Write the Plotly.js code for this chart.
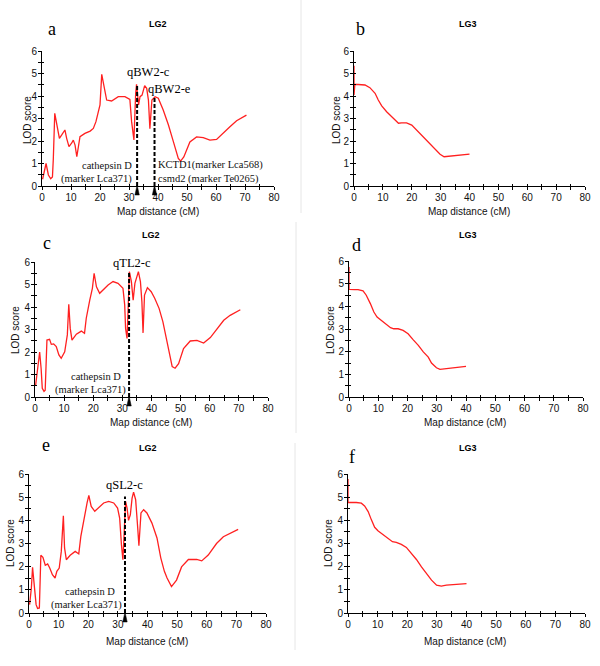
<!DOCTYPE html>
<html>
<head>
<meta charset="utf-8">
<script src="https://cdn.plot.ly/plotly-3.0.1.min.js"></script>
<style>html,body{margin:0;padding:0;background:#fff;}#chart{width:600px;height:666px;}</style>
</head>
<body>
<div id="chart"></div>
<script>
// ---- Data: LOD profiles (Map distance cM, LOD score) ----
const bwLG2_cM  = [0.2,1.4,2.2,3.0,3.6,3.9,4.4,5.1,6.0,6.8,7.9,8.5,9.3,10.2,10.8,11.4,12.0,13.1,14.8,16.6,17.7,18.6,20.0,20.6,21.4,22.3,24.0,25.2,26.3,28.6,30.3,30.9,31.7,32.3,32.6,33.3,33.8,34.5,35.4,36.1,36.7,37.2,37.9,39.0,40.1,41.8,43.6,45.3,47.0,47.8,48.9,51.0,53.3,55.6,57.9,60.2,62.5,64.8,67.1,70.5];
const bwLG2_lod = [0.3,1.0,0.49,0.32,0.4,1.2,3.23,2.71,2.12,2.27,2.49,2.12,1.75,1.9,2.04,1.82,1.3,2.19,2.34,2.44,2.56,2.86,3.6,4.96,4.49,3.82,3.78,3.9,3.97,3.97,3.85,2.86,2.05,4.12,4.52,3.6,3.97,4.04,4.46,4.34,3.82,2.55,3.82,3.97,3.9,3.38,2.71,1.97,1.23,1.11,1.29,1.96,2.18,2.15,2.04,2.07,2.33,2.63,2.9,3.15];

const bwLG3_cM  = [0,0,0.3,2.1,3.8,5.5,7.3,8.4,9.6,11.3,13.0,14.5,15.4,16.5,18.2,20.0,21.7,24.0,26.3,28.1,29.8,31.2,33.3,35.6,37.9,40.0];
const bwLG3_lod = [5.35,4.05,4.52,4.52,4.49,4.37,4.12,3.82,3.56,3.3,3.08,2.86,2.79,2.81,2.81,2.71,2.49,2.19,1.9,1.63,1.41,1.3,1.33,1.38,1.42,1.42];

const tlLG2_cM  = [0.2,0.8,1.6,2.1,2.5,3.1,3.5,4.1,5.0,5.6,6.4,7.3,8.2,9.0,10.2,11.1,11.6,12.1,12.7,14.2,15.9,17.0,17.6,18.8,19.7,20.3,21.1,22.2,23.3,25.1,26.8,28.5,30.2,30.8,31.1,31.6,32.0,32.4,33.1,33.7,34.3,35.0,35.5,36.2,36.7,37.1,37.6,38.6,39.9,41.1,42.6,43.9,45.1,46.2,47.1,48.1,49.3,51.0,53.3,55.6,57.9,60.2,62.5,64.8,67.0,70.5];
const tlLG2_lod = [0.5,1.27,2.0,1.27,0.39,0.25,0.3,2.53,2.56,2.34,2.36,2.24,1.87,1.72,2.01,2.76,4.12,3.05,2.53,2.79,2.93,2.83,3.5,4.31,4.83,5.5,4.9,4.61,4.76,4.98,5.13,5.05,4.83,4.09,3.05,2.6,4.0,5.57,5.13,4.3,5.05,5.42,5.57,5.13,4.24,2.85,4.53,4.86,4.68,4.39,3.94,3.35,2.61,1.87,1.35,1.28,1.48,2.15,2.49,2.52,2.4,2.64,3.04,3.41,3.63,3.88];

const tlLG3_cM  = [0,0,1.9,3.1,4.8,5.9,7.3,8.5,9.6,11.1,12.8,14.2,15.3,16.8,18.5,20.2,21.9,23.7,25.4,27.1,28.2,29.9,31.1,32.8,35.1,37.4,40.0];
const tlLG3_lod = [5.74,4.75,4.74,4.74,4.68,4.49,4.12,3.75,3.53,3.38,3.24,3.06,3.01,3.01,2.94,2.79,2.53,2.28,1.99,1.76,1.5,1.29,1.22,1.25,1.28,1.32,1.35];

const slLG2_cM  = [0.2,0.8,1.2,1.8,2.4,2.9,3.5,4.0,4.7,5.5,6.3,7.0,7.9,8.8,9.4,10.2,10.9,11.6,12.0,12.6,13.9,15.6,16.8,17.5,19.0,19.6,20.2,21.0,22.2,23.5,25.2,26.9,28.6,29.9,30.6,31.2,31.7,32.2,32.6,33.1,33.6,34.2,34.8,35.3,36.0,36.7,37.1,37.8,38.7,39.8,41.5,43.2,44.5,45.7,46.6,48.1,49.8,51.5,53.8,56.6,58.3,60.5,63.3,65.6,67.8,70.6];
const slLG2_lod = [0.36,1.08,1.97,1.22,0.36,0.2,0.22,2.49,2.4,2.06,2.12,1.94,1.65,1.51,1.8,1.94,2.66,4.2,2.81,2.3,2.49,2.66,2.55,3.31,4.46,4.75,5.08,4.6,4.39,4.56,4.75,4.82,4.75,4.53,4.1,2.95,2.3,3.67,4.82,4.53,4.0,4.24,4.96,5.22,4.89,3.67,2.9,4.32,4.46,4.32,3.88,3.24,2.37,1.8,1.51,1.14,1.42,1.99,2.31,2.31,2.25,2.5,3.0,3.29,3.44,3.61];

const slLG3_cM  = [0,0,2.8,4.5,5.6,6.8,7.9,9.0,10.1,11.8,13.5,15.0,16.3,18.0,19.7,21.4,23.1,24.8,26.5,28.2,29.9,31.5,33.2,35.5,37.7,40.0];
const slLG3_lod = [5.78,4.77,4.77,4.74,4.62,4.38,4.02,3.7,3.55,3.4,3.22,3.08,3.05,2.96,2.83,2.57,2.31,1.99,1.71,1.42,1.2,1.16,1.2,1.23,1.27,1.27];

// QTL marks: name, position (cM), top of dashed line (LOD)
const qtlNames = ["qBW2-c","qBW2-e","qTL2-c","qSL2-c"];
const qtlPos   = [32.8, 38.8, 32.3, 32.4];
const qtlTop   = [4.5, 3.97, 5.6, 5.03];
const qtlPanel = [1, 1, 3, 5];

const panelLetters = ["a","b","c","d","e","f"];
const panelTitles  = ["LG2","LG3","LG2","LG3","LG2","LG3"];
const xTitle = "Map distance (cM)";
const yTitle = "LOD score";

// ---- Layout geometry (pixels) ----
const W = 600, H = 666;
const boxes = [
  [42,274,51,186],[354,585,51,186],
  [35,268,262,397],[349,583,261,397],
  [29,266,474,613],[348,585,474,613]
];
const titlePos  = [[158,24],[468,24],[151,235],[468,235],[148,448],[468,448]];
const letterPos = [[52,29],[360,29],[47,243],[356,245],[46,445],[352,457]];
const xTitlePos = [[158,212],[469,212],[151,423],[465,423],[147,641],[465,641]];
const yTitlePos = [[28,120],[337,120],[15,330],[330,330],[10,543],[328,543]];

const series = [
  [bwLG2_cM,bwLG2_lod],[bwLG3_cM,bwLG3_lod],
  [tlLG2_cM,tlLG2_lod],[tlLG3_cM,tlLG3_lod],
  [slLG2_cM,slLG2_lod],[slLG3_cM,slLG3_lod]
];

const sans = "Liberation Sans, Arial, sans-serif";
const serif = "Liberation Serif, Times New Roman, serif";

const data = [];
const layout = {
  width: W, height: H, margin:{l:0,r:0,t:0,b:0},
  paper_bgcolor:"#fff", plot_bgcolor:"rgba(0,0,0,0)", showlegend:false,
  shapes:[], annotations:[]
};
function P(px,py){ return {x:px/W, y:1-py/H}; }

boxes.forEach((b,i)=>{
  const n = i+1, sfx = n===1?"":String(n);
  const xd = [b[0]/W, b[1]/W], yd = [1-b[3]/H, 1-b[2]/H];
  layout["xaxis"+sfx] = {
    domain:xd, anchor:"y"+sfx, range:[0,80],
    dtick:10, tick0:0, ticks:"outside", ticklen:3, tickwidth:1, tickcolor:"#000",
    minor:{dtick:5, ticks:"outside", ticklen:3, tickwidth:1, tickcolor:"#000"},
    showline:true, linecolor:"#000", linewidth:1, showgrid:false, zeroline:false,
    ticklabelstandoff:-1,
    tickfont:{family:sans,size:10,color:"#111"}
  };
  layout["yaxis"+sfx] = {
    domain:yd, anchor:"x"+sfx, range:[0,6],
    dtick:1, tick0:0, ticks:"outside", ticklen:3, tickwidth:1, tickcolor:"#000",
    minor:{dtick:0.5, ticks:"outside", ticklen:3, tickwidth:1, tickcolor:"#000"},
    showline:true, linecolor:"#000", linewidth:1, showgrid:false, zeroline:false,
    ticklabelstandoff:-1,
    tickfont:{family:sans,size:10,color:"#111"}
  };
  // overlay axes giving the inward half of the crossing ticks
  const on = String(n+6);
  layout["xaxis"+on] = {
    domain:xd, anchor:"y"+sfx, overlaying:"x"+sfx, range:[0,80],
    dtick:5, tick0:0, ticks:"inside", ticklen:2, tickwidth:1, tickcolor:"#000",
    showticklabels:false, showline:false, showgrid:false, zeroline:false
  };
  layout["yaxis"+on] = {
    domain:yd, anchor:"x"+sfx, overlaying:"y"+sfx, range:[0,6],
    dtick:0.5, tick0:0, ticks:"inside", ticklen:2, tickwidth:1, tickcolor:"#000",
    showticklabels:false, showline:false, showgrid:false, zeroline:false
  };
  data.push({
    type:"scatter", mode:"lines", x:series[i][0], y:series[i][1],
    xaxis:"x"+sfx, yaxis:"y"+sfx,
    line:{color:"#ff2020", width:1.3}, hoverinfo:"skip"
  });
  data.push({type:"scatter", mode:"lines", x:[], y:[], xaxis:"x"+on, yaxis:"y"+on, hoverinfo:"skip"});
  const tp = P(titlePos[i][0], titlePos[i][1]);
  layout.annotations.push({
    xref:"paper", yref:"paper", x:tp.x, y:tp.y,
    text:"<b>"+panelTitles[i]+"</b>", showarrow:false, xanchor:"center", yanchor:"middle",
    font:{family:sans,size:9,color:"#000"}
  });
  const lp = P(letterPos[i][0], letterPos[i][1]);
  layout.annotations.push({
    xref:"paper", yref:"paper", x:lp.x, y:lp.y,
    text:panelLetters[i], showarrow:false, xanchor:"center", yanchor:"middle",
    font:{family:serif,size:18,color:"#000"}
  });
  const xp = P(xTitlePos[i][0], xTitlePos[i][1]);
  layout.annotations.push({
    xref:"paper", yref:"paper", x:xp.x, y:xp.y, text:xTitle, showarrow:false,
    xanchor:"center", yanchor:"middle", font:{family:sans,size:10,color:"#111"}
  });
  const yp = P(yTitlePos[i][0], yTitlePos[i][1]);
  layout.annotations.push({
    xref:"paper", yref:"paper", x:yp.x, y:yp.y, text:yTitle, showarrow:false, textangle:-90,
    xanchor:"center", yanchor:"middle", font:{family:sans,size:10,color:"#111"}
  });
});

// QTL dashed lines, arrowheads and labels
const qtlLabelPos = [[36.7,5.07],[44.0,4.31],[33.3,5.96],[32.2,5.52]];
qtlNames.forEach((q,k)=>{
  const pn = qtlPanel[k], sfx = pn===1?"":String(pn);
  const b = boxes[pn-1];
  const halfW = 2.2 * 80 / (b[1]-b[0]);          // ~2 px expressed in cM
  const yTop = 1-(b[3]-1)/H, yBot = 1-(b[3]+9)/H;  // just under the x axis
  layout.shapes.push({
    type:"line", xref:"x"+sfx, yref:"y"+sfx,
    x0:qtlPos[k], x1:qtlPos[k], y0:0, y1:qtlTop[k],
    line:{color:"#000", width:2, dash:"4px,2px"}
  });
  layout.shapes.push({
    type:"path", xref:"x"+sfx, yref:"paper",
    path:"M "+(qtlPos[k]-halfW)+","+yBot+" L "+(qtlPos[k]+halfW)+","+yBot+" L "+qtlPos[k]+","+yTop+" Z",
    fillcolor:"#000", line:{color:"#000", width:0.5}
  });
  layout.annotations.push({
    xref:"x"+sfx, yref:"y"+sfx, x:qtlLabelPos[k][0], y:qtlLabelPos[k][1],
    text:q, showarrow:false, xanchor:"center", yanchor:"middle",
    font:{family:serif,size:12.5,color:"#000"}
  });
});

// Marker (gene) labels
const geneLabels = [
  {p:1, t:"cathepsin D", x:31.7, y:0.92, a:"right"},
  {p:1, t:"(marker Lca371)", x:31.7, y:0.33, a:"right"},
  {p:1, t:"KCTD1(marker Lca568)", x:39.3, y:0.92, a:"left"},
  {p:1, t:"csmd2 (marker Te0265)", x:39.3, y:0.33, a:"left"},
  {p:3, t:"cathepsin D", x:30.2, y:0.92, a:"right"},
  {p:3, t:"(marker Lca371)", x:32.0, y:0.33, a:"right"},
  {p:5, t:"cathepsin D", x:29.7, y:0.92, a:"right"},
  {p:5, t:"(marker Lca371)", x:32.1, y:0.35, a:"right"}
];
geneLabels.forEach(g=>{
  const sfx = g.p===1?"":String(g.p);
  layout.annotations.push({
    xref:"x"+sfx, yref:"y"+sfx, x:g.x, y:g.y, text:g.t, showarrow:false,
    xanchor:g.a, yanchor:"middle", font:{family:serif,size:10.5,color:"#111"}
  });
});

// faint separators of the original composite
[[301,0,213],[296,222,433],[295,443,650]].forEach(s=>{
  layout.shapes.push({type:"line", xref:"paper", yref:"paper",
    x0:s[0]/W, x1:s[0]/W, y0:1-s[1]/H, y1:1-s[2]/H, line:{color:"#e6e6e6", width:1}});
});

Plotly.newPlot("chart", data, layout, {staticPlot:true});
</script>
</body>
</html>
